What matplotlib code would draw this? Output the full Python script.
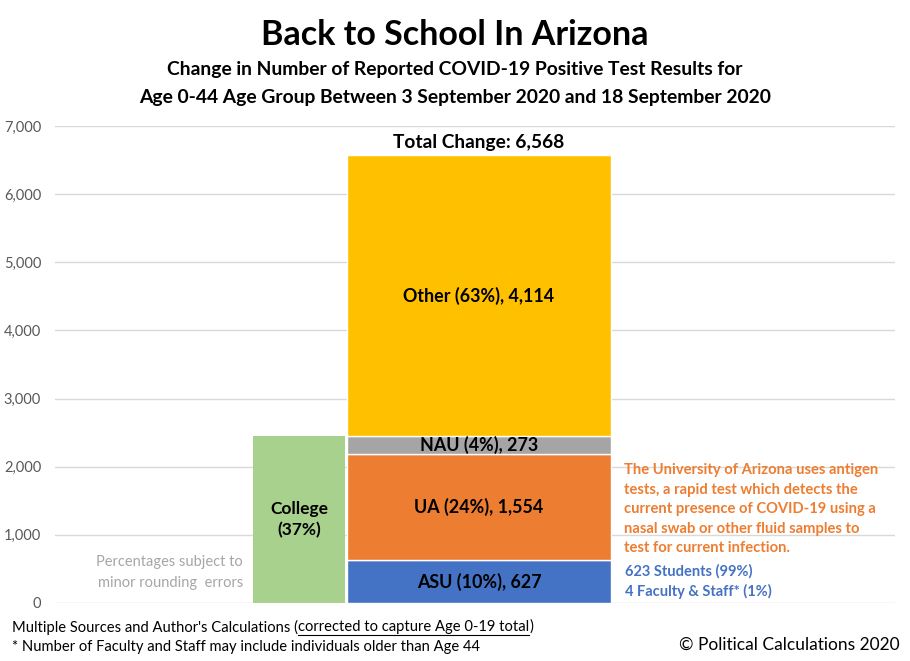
import matplotlib
matplotlib.use("Agg")
import matplotlib.pyplot as plt
from matplotlib.lines import Line2D

plt.rcParams['font.family'] = ['Lato', 'DejaVu Sans']

# ---- data ----
college_label = "College\n(37%)"
college_value = 627 + 1554 + 273
segments = ["ASU", "UA", "NAU", "Other"]
seg_pct = [10, 24, 4, 63]
seg_values = [627, 1554, 273, 4114]
seg_colors = ["#4472C4", "#ED7D31", "#A5A5A5", "#FFC000"]
total_change = 6568
yticks = [0, 1000, 2000, 3000, 4000, 5000, 6000, 7000]

W, H = 910, 661
fig = plt.figure(figsize=(W / 100, H / 100), dpi=100)
ax = fig.add_axes([55 / W, (H - 603) / H, 840 / W, 477 / H])

ax.set_xlim(0, 840)
ax.set_ylim(0, 7000)

# college bar
ax.bar(244, college_value, width=92, color="#A9D18E", zorder=2)
ax.text(244, college_value / 2, college_label, ha="center", va="center",
        fontsize=12.5, fontweight="bold", color="black", zorder=3, linespacing=1.4)

# stacked bar
bottom = 0
for name, p, v, c in zip(segments, seg_pct, seg_values, seg_colors):
    ax.bar(424, v, width=264, bottom=bottom, color=c, edgecolor="white",
           linewidth=1.0, zorder=2)
    ax.text(424, bottom + v / 2, f"{name} ({p}%), {v:,}", ha="center", va="center",
            fontsize=12.9, fontweight="bold", color="black", zorder=3)
    bottom += v

ax.text(424, total_change + 60, f"Total Change: {total_change:,}", ha="center",
        va="bottom", fontsize=13.8, fontweight="bold", color="black")

ax.set_yticks(yticks)
ax.set_yticklabels([f"{t:,}" for t in yticks])
ax.tick_params(axis="y", length=0, labelsize=10.5, labelcolor="#595959", pad=10)
ax.set_xticks([])
ax.grid(axis="y", color="#D9D9D9", linewidth=1, zorder=0)
for s in ax.spines.values():
    s.set_visible(False)

# left gray note
ax.text(188, 450, "Percentages subject to\nminor rounding  errors", ha="right",
        va="center", fontsize=10.5, color="#A6A6A6", linespacing=1.6)

# right notes
fig.text(624 / W, 1 - 463 / H,
         "The University of Arizona uses antigen\ntests, a rapid test which detects the\n"
         "current presence of COVID-19 using a\nnasal swab or other fluid samples to\n"
         "test for current infection.",
         ha="left", va="top", fontsize=10.6, fontweight="bold", color="#ED7D31",
         linespacing=1.51)
fig.text(625 / W, 1 - 571 / H, "623 Students (99%)", ha="left", va="center",
         fontsize=10.5, fontweight="bold", color="#4472C4")
fig.text(625 / W, 1 - 591 / H, "4 Faculty & Staff* (1%)", ha="left", va="center",
         fontsize=10.5, fontweight="bold", color="#4472C4")

# titles
fig.text(0.5, 1 - 35 / H, "Back to School In Arizona", ha="center", va="center",
         fontsize=24.5, fontweight="bold")
fig.text(0.5, 1 - 70 / H, "Change in Number of Reported COVID-19 Positive Test Results for",
         ha="center", va="center", fontsize=13.9, fontweight="bold")
fig.text(0.5, 1 - 98 / H, "Age 0-44 Age Group Between 3 September 2020 and 18 September 2020",
         ha="center", va="center", fontsize=13.9, fontweight="bold")

# footer
fs = 10.6
t1 = fig.text(12 / W, 1 - 627 / H, "Multiple Sources and Author's Calculations (",
              ha="left", va="center", fontsize=fs, color="black")
fig.canvas.draw()
r = fig.canvas.get_renderer()
bb1 = t1.get_window_extent(r)
t2 = fig.text(bb1.x1 / W, 1 - 627 / H, "corrected to capture Age 0-19 total",
              ha="left", va="center", fontsize=fs, color="black")
bb2 = t2.get_window_extent(r)
fig.text(bb2.x1 / W, 1 - 627 / H, ")", ha="left", va="center", fontsize=fs, color="black")
uy = (bb2.y0 - 1) / H
fig.add_artist(Line2D([bb2.x0 / W, bb2.x1 / W], [uy, uy], color="black", linewidth=0.8))
fig.text(12 / W, 1 - 647 / H, "* Number of Faculty and Staff may include individuals older than Age 44",
         ha="left", va="center", fontsize=fs, color="black")
fig.text(900 / W, 1 - 645 / H, "© Political Calculations 2020", ha="right", va="center",
         fontsize=12.5, color="black")

fig.savefig("out.png", dpi=100)
